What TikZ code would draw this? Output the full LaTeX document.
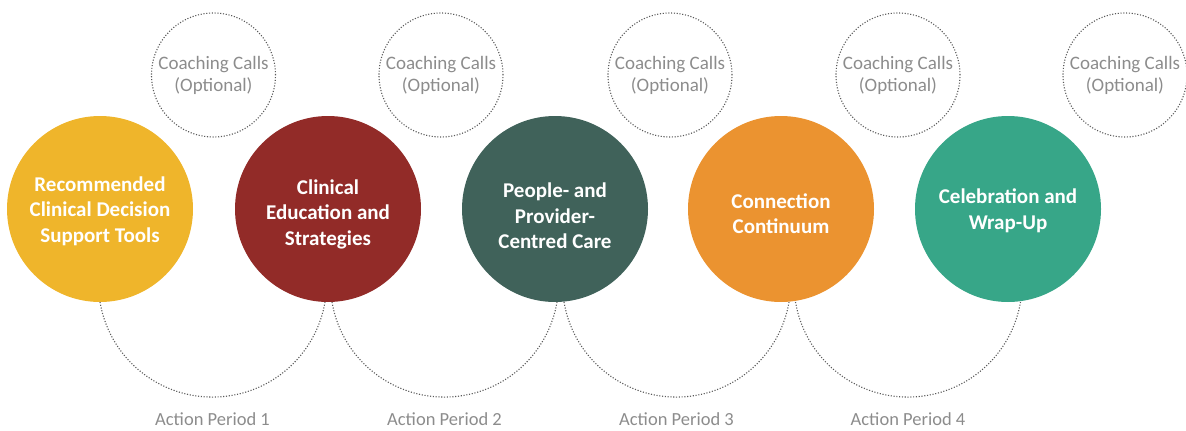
\documentclass[tikz,border=0pt]{standalone}
\usepackage{fontspec}
\setmainfont{Carlito}
\usetikzlibrary{positioning}

\definecolor{cdsyellow}{HTML}{EFB52B}
\definecolor{cdsred}{HTML}{922B28}
\definecolor{cdsslate}{HTML}{40625A}
\definecolor{cdsorange}{HTML}{EB9330}
\definecolor{cdsteal}{HTML}{37A688}
\definecolor{dotgray}{HTML}{5A5A5A}
\definecolor{txtgray}{HTML}{8C8C8C}

\tikzset{
    topic/.style={circle, minimum size=186pt, inner sep=0pt, text=white, align=center,
        font=\bfseries\fontsize{21}{25.5}\selectfont},
    call/.style={circle, draw=dotgray, line width=1.1pt, dash pattern=on 1.1pt off 1.7pt,
        minimum size=124pt, inner sep=0pt, text=txtgray, align=center,
        font=\fontsize{19}{22}\selectfont},
    track/.style={draw=dotgray, line width=1.1pt, dash pattern=on 1.1pt off 1.7pt},
    period/.style={text=txtgray, font=\fontsize{18.5}{22}\selectfont}
}

\begin{document}
\begin{tikzpicture}[x=1pt, y=1pt]
    \useasboundingbox (0,0) rectangle (1186,-431);

    % Action periods (dotted arcs under the topics)
    \foreach \x [count=\n] in {212.5,444.5,676.5,908} {
        \coordinate (ap\n) at (\x-112.5,-302);
        \draw[track] (ap\n) arc[start angle=189.6, end angle=350.4, radius=114.1];
        \node[period] (lbl\n) at (\x,-419) {Action Period \n};
    }

    % Coaching calls
    \foreach \x [count=\n] in {213.5,441,670,898,1125}
        \node[call] (call\n) at (\x,-75) {Coaching Calls\\(Optional)};

    % Topics
    \node[topic, fill=cdsyellow, text height=70pt] (tools) at (100,-209) {Recommended\\Clinical Decision\\Support Tools};
    \node[topic, fill=cdsred, text height=76pt] (educ) at (328,-209) {Clinical\\Education and\\Strategies};
    \node[topic, fill=cdsslate, text height=80pt] (care) at (555,-209) {People- and\\Provider-\\Centred Care};
    \node[topic, fill=cdsorange, text height=50pt] (conn) at (781,-209) {Connection\\Continuum};
    \node[topic, fill=cdsteal, text height=44pt] (wrap) at (1008,-209) {Celebration and\\Wrap-Up};
\end{tikzpicture}
\end{document}
